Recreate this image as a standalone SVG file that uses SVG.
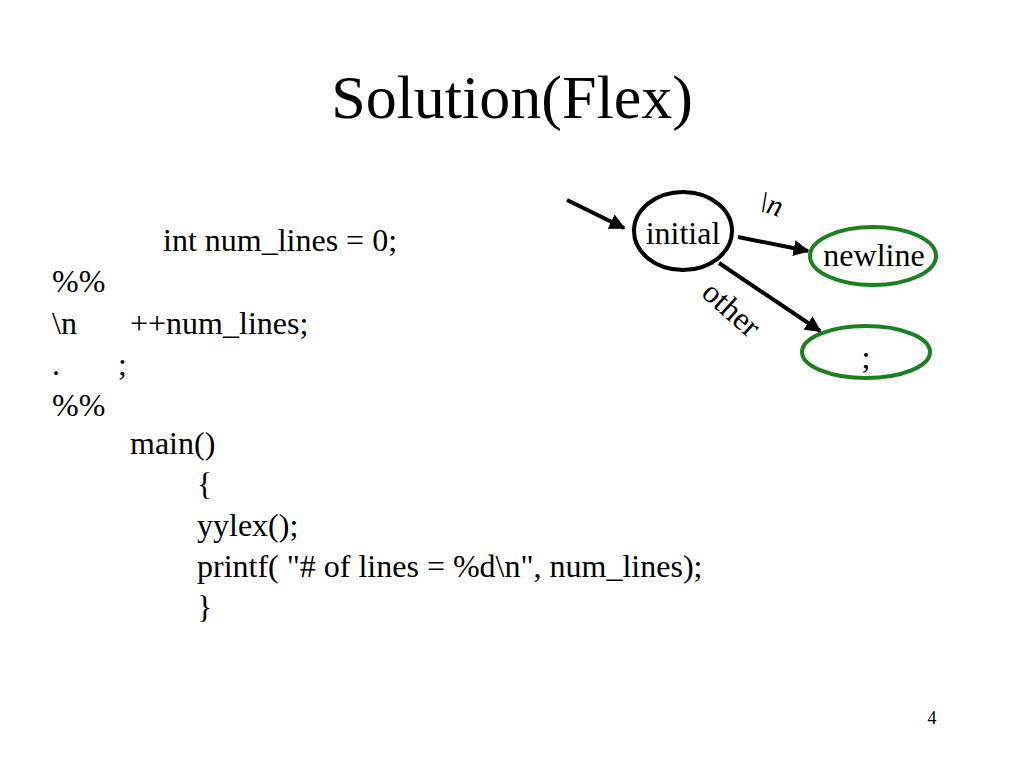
<svg xmlns="http://www.w3.org/2000/svg" width="1024" height="768" viewBox="0 0 1024 768">
<style>
text{font-family:"Liberation Serif","Times New Roman",serif;fill:#000}
.c{font-size:32px}
.st{fill:#fff;stroke-width:4}
.e{stroke:#000;stroke-width:4;fill:none;marker-end:url(#a)}
</style>
<defs><marker id="a" viewBox="0 0 10 10" refX="9" refY="5" markerWidth="4" markerHeight="4" orient="auto" markerUnits="strokeWidth"><path d="M0,0L10,5L0,10z" fill="#000"/></marker></defs>
<rect width="1024" height="768" fill="#fff"/>
<text x="512" y="118" font-size="62" text-anchor="middle">Solution(Flex)</text>
<g class="c">
<text x="163" y="251">int num_lines = 0;</text>
<text x="52" y="292">%%</text>
<text x="52" y="334">\n</text><text x="130" y="334">++num_lines;</text>
<text x="52" y="375">.</text><text x="118" y="375">;</text>
<text x="52" y="416">%%</text>
<text x="130" y="454">main()</text>
<text x="197" y="495">{</text>
<text x="197" y="536">yylex();</text>
<text x="197" y="577">printf( "# of lines = %d\n", num_lines);</text>
<text x="197" y="618">}</text>
</g>
<text x="932" y="724" font-size="18" text-anchor="middle">4</text>
<g id="connectors">
<line class="e" x1="567" y1="200" x2="624" y2="228"/>
<line class="e" x1="738" y1="237" x2="808" y2="251"/>
<line class="e" x1="719" y1="263" x2="820" y2="331"/>
<text transform="translate(757,210) rotate(18)" font-size="30" font-style="italic">\n</text>
<text transform="translate(700,295) rotate(42)" font-size="32">other</text>
</g>
<g id="initial"><ellipse class="st" cx="683" cy="231" rx="49" ry="39" stroke="#000"/><text x="683" y="244" font-size="32" text-anchor="middle">initial</text></g>
<g id="newline"><ellipse class="st" cx="873" cy="256" rx="63" ry="29" stroke="#1a8020"/><text x="874" y="266" font-size="32" text-anchor="middle">newline</text></g>
<g id="semi"><ellipse class="st" cx="866" cy="352" rx="64" ry="26" stroke="#1a8020"/><text x="866" y="368" font-size="32" text-anchor="middle">;</text></g>
</svg>
